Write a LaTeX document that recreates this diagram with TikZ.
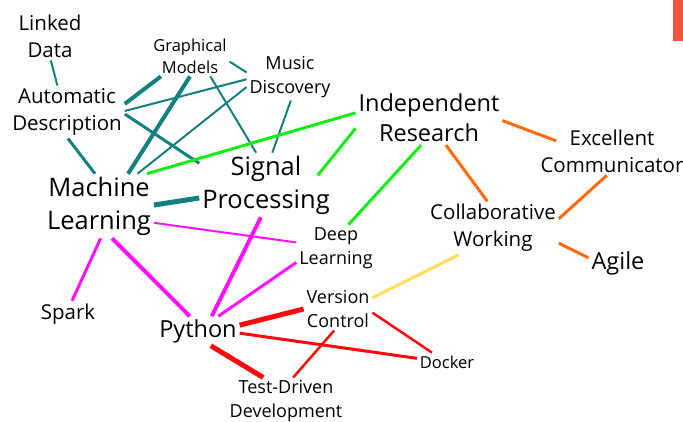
\documentclass[tikz,border=0pt]{standalone}
\usepackage{fontspec}
\setmainfont{Open Sans}
\usetikzlibrary{positioning}
\definecolor{tealln}{HTML}{138080}
\definecolor{grnln}{HTML}{11EE11}
\definecolor{orgln}{HTML}{FF6A0A}
\definecolor{ylwln}{HTML}{FFDD55}
\definecolor{magln}{HTML}{FF11FF}
\definecolor{redln}{HTML}{FF0A0A}
\definecolor{cornerbar}{HTML}{F05442}

\begin{document}
\begin{tikzpicture}[x=10pt, y=-10pt,
    every node/.style={align=center, inner sep=3pt, outer sep=0pt},
    xl/.style={font=\fontsize{25.5}{33}\selectfont},
    lg/.style={font=\fontsize{23.5}{30}\selectfont},
    md/.style={font=\fontsize{20.5}{27}\selectfont},
    sm/.style={font=\fontsize{18}{23.5}\selectfont},
    xs/.style={font=\fontsize{16.5}{22}\selectfont},
    tl/.style={draw=tealln}, gr/.style={draw=grnln}, og/.style={draw=orgln},
    yl/.style={draw=ylwln}, mg/.style={draw=magln}, rd/.style={draw=redln}]

    \useasboundingbox (0,0) rectangle (68.3,42.1);
    \fill[cornerbar] (67.3,0) rectangle (68.3,4.1);

    % data science cluster
    \node[md] (ld) at (5.0,3.6)   {Linked\\Data};
    \node[md] (ad) at (6.7,11.2)  {Automatic\\Description};
    \node[xs] (gm) at (19.0,5.6)  {Graphical\\Models};
    \node[sm] (mu) at (29.0,7.7)  {Music\\Discovery};
    \node[xl] (ml) at (9.9,20.6)  {Machine\\Learning};
    \node[xl] (sp) at (26.6,18.5) {Signal\\Processing};

    % soft skills
    \node[lg] (ir) at (42.9,11.8) {Independent\\Research};
    \node[md] (ec) at (61.2,15.1) {Excellent\\Communicator};
    \node[md] (cw) at (49.3,22.8) {Collaborative\\Working};
    \node[lg] (ag) at (61.8,26.3) {Agile};

    % tools
    \node[sm] (dl) at (33.6,24.8) {Deep\\Learning};
    \node[md] (sk) at (6.8,31.4)  {Spark};
    \node[lg] (py) at (19.8,33.1) {Python};
    \node[sm] (vc) at (33.8,30.9) {Version\\Control};
    \node[xs] (dk) at (44.7,36.2) {Docker};
    \node[sm] (td) at (28.6,40.1) {Test-Driven\\Development};

    \draw[tl, line width=2pt] (ld.272) -- (ad.110);
    \draw[tl, line width=3pt] (ad.272) -- (ml.97);
    \draw[tl, line width=4pt] (ad.8) -- (gm.215);
    \draw[tl, line width=2pt] (ad.1) -- (mu.183);
    \draw[tl, line width=3pt] (ad.-2) -- (sp.162);
    \draw[tl, line width=4pt] (gm.270) -- (ml.48);
    \draw[tl, line width=2pt] (gm.352) -- (mu.174);
    \draw[tl, line width=2pt] (gm.315) -- (sp.107);
    \draw[tl, line width=2pt] (mu.193) -- (ml.40);
    \draw[tl, line width=2pt] (mu.272) -- (sp.79);
    \draw[tl, line width=5pt] (ml.1) -- (sp.191);

    \draw[gr, line width=3pt] (ml.34) -- (ir.176);
    \draw[gr, line width=3pt, shorten <=-24pt] (sp.23) -- (ir.188);
    \draw[gr, line width=3pt] (dl.62) -- (ir.254);

    \draw[og, line width=3pt, shorten >=-20pt] (ir.358) -- (ec.167);
    \draw[og, line width=3pt] (ir.302) -- (cw.102);
    \draw[og, line width=3pt] (ec.258) -- (cw.8);
    \draw[og, line width=3pt] (cw.347) -- (ag.170);
    \draw[yl, line width=3pt] (cw.218) -- (vc.18);

    \draw[mg, line width=2pt] (ml.343) -- (dl.172);
    \draw[mg, line width=3pt] (ml.273) -- (sk.73);
    \draw[mg, line width=4pt] (ml.292) -- (py.119);
    \draw[mg, line width=4pt] (sp.261) -- (py.47);
    \draw[mg, line width=3pt] (dl.200) -- (py.36);

    \draw[rd, line width=5pt] (py.8) -- (vc.180);
    \draw[rd, line width=3pt] (py.357) -- (dk.173);
    \draw[rd, line width=5pt] (py.311) -- (td.134);
    \draw[rd, line width=2.5pt] (vc.354) -- (dk.148);
    \draw[rd, line width=2.5pt] (vc.260) -- (td.73);
\end{tikzpicture}
\end{document}
